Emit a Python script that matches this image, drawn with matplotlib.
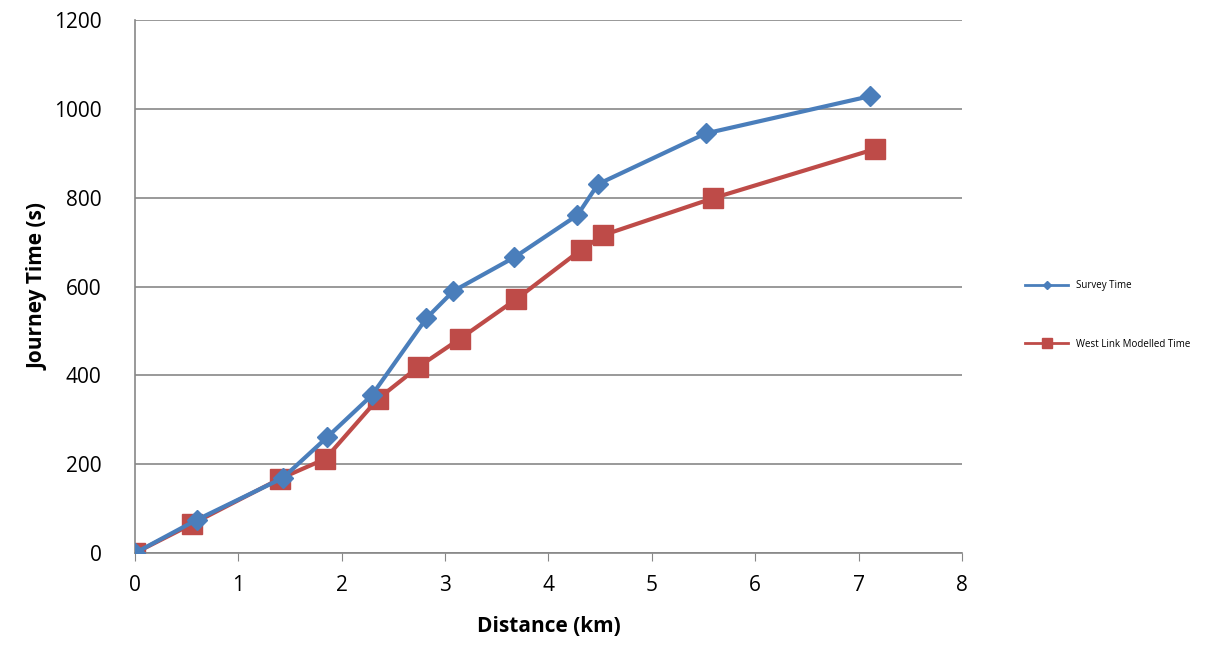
import matplotlib
matplotlib.use('Agg')
import matplotlib.pyplot as plt

# survey journey times
survey_km = [0, 0.60, 1.43, 1.86, 2.29, 2.82, 3.08, 3.67, 4.28, 4.48, 5.52, 7.11]
survey_s = [0, 75, 169, 261, 355, 529, 590, 666, 761, 831, 945, 1029]

# modelled journey times
model_km = [0, 0.55, 1.40, 1.84, 2.35, 2.74, 3.14, 3.69, 4.31, 4.53, 5.59, 7.16]
model_s = [0, 65, 167, 212, 347, 419, 482, 572, 682, 716, 799, 910]

plt.rcParams['font.family'] = ['Open Sans', 'DejaVu Sans']

fig = plt.figure(figsize=(12.27, 6.45), dpi=100)
ax = fig.add_axes([0.110, 0.1426, 0.674, 0.826])

ax.plot(survey_km, survey_s, color='#4a7ebb', lw=3, marker='D', ms=10,
        label='Survey Time', zorder=3)
ax.plot(model_km, model_s, color='#be4b48', lw=3, marker='s', ms=15,
        label='West Link Modelled Time', zorder=2)

ax.set_xlim(0, 8)
ax.set_ylim(0, 1200)
ax.set_xticks(range(0, 9))
ax.set_yticks(range(0, 1201, 200))
ax.grid(axis='y', color='#878787', lw=1.2)
ax.set_axisbelow(True)
for s in ['top', 'right']:
    ax.spines[s].set_visible(False)
for s in ['left', 'bottom']:
    ax.spines[s].set_color('#878787')
    ax.spines[s].set_linewidth(1.2)
ax.tick_params(axis='x', direction='out', length=6, color='#878787', labelsize=15, pad=10)
ax.tick_params(axis='y', length=0, labelsize=15, pad=24)

ax.set_xlabel('Distance (km)', fontsize=15, fontweight='bold', labelpad=14)
ax.set_ylabel('Journey Time (s)', fontsize=15, fontweight='bold', labelpad=4)

leg = fig.legend(loc='center left', bbox_to_anchor=(0.828, 0.512), frameon=False,
                 fontsize=7, labelspacing=4.9, handlelength=4.5, markerscale=0.45)
for h in leg.legend_handles:
    h.set_linewidth(2)

fig.savefig('out.png', dpi=100)
